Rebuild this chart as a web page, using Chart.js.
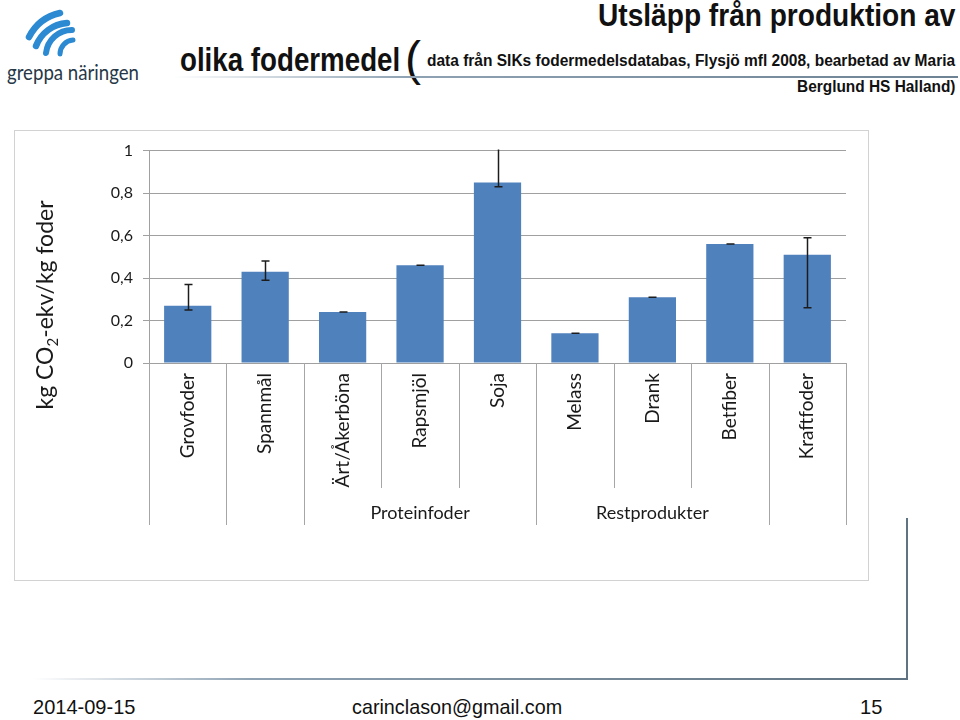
<!DOCTYPE html>
<html>
<head>
<meta charset="utf-8">
<script src="https://cdn.jsdelivr.net/npm/chart.js"></script>
<style>
body { margin: 0; width: 960px; height: 720px; position: relative; background: #fff; overflow: hidden; font-family: 'Liberation Sans', Arial, sans-serif; }
.t { position: absolute; white-space: nowrap; font-weight: bold; color: #111; line-height: 1; }
.f { position: absolute; white-space: nowrap; color: #111; font-size: 21px; line-height: 1; }
#box { position: absolute; left: 14px; top: 130px; width: 855px; height: 451px; border: 1px solid #d2d2d2; box-sizing: border-box; }
#box canvas { position: absolute; left: 0; top: 0; }
</style>
</head>
<body>

<svg style="position:absolute;left:0;top:0" width="180" height="100">
  <g fill="none" stroke="#2b8ad2" stroke-linecap="round">
    <path d="M29 37 A46 46 0 0 1 60 13" stroke-width="6.5"/>
    <path d="M36 46 A36 36 0 0 1 67 23" stroke-width="6.5"/>
    <path d="M46 53 A26 26 0 0 1 72 30" stroke-width="6"/>
    <path d="M60 54 A14 14 0 0 1 73 40" stroke-width="5"/>
  </g>
  <text x="7" y="80" textLength="132" lengthAdjust="spacingAndGlyphs" font-family="Lato, 'Open Sans', sans-serif" font-size="21" fill="#263747">greppa näringen</text>
</svg>

<div class="t" data-w="357" data-o="right" style="right:5px;top:0px;font-size:31px;">Utsläpp från produktion av</div>
<div class="t" data-w="220" data-o="left" style="left:180px;top:42px;font-size:34px;">olika fodermedel</div>
<div class="t" style="left:405px;top:35px;font-size:48px;font-weight:normal;">(</div>
<div class="t" data-w="528" data-o="left" style="left:427px;top:53px;font-size:16px;">data från SIKs fodermedelsdatabas, Flysjö mfl 2008, bearbetad av Maria</div>
<div class="t" data-w="158" data-o="right" style="right:5px;top:79px;font-size:16px;">Berglund HS Halland)</div>
<div style="position:absolute;left:173px;top:76px;width:785px;height:2px;background:linear-gradient(to right, rgba(255,255,255,0), #8ea2b3 30%, #6d8293);"></div>

<div id="box"><canvas id="mycanvas" width="853" height="449"></canvas></div>

<div style="position:absolute;left:33px;top:678px;width:875px;height:2px;background:linear-gradient(to right, rgba(255,255,255,0), #8ea2b3 25%, #5f7382);"></div>
<div style="position:absolute;left:906px;top:518px;width:2px;height:162px;background:#5f7382;"></div>

<div class="f" data-w="102" data-o="left" style="left:33px;top:696px;">2014-09-15</div>
<div class="f" data-w="210" data-o="left" style="left:352px;top:696px;">carinclason@gmail.com</div>
<div class="f" data-w="22" data-o="left" style="left:860px;top:696px;">15</div>

<script>
// feed types and kg CO2-eq per kg feed
var feeds = ["Grovfoder", "Spannmål", "Ärt/Åkerböna", "Rapsmjöl", "Soja", "Melass", "Drank", "Betfiber", "Kraftfoder"];
var co2 = [0.27, 0.43, 0.24, 0.46, 0.85, 0.14, 0.31, 0.56, 0.51];
var errLow = [0.25, 0.39, 0.24, 0.46, 0.83, 0.14, 0.31, 0.56, 0.26];
var errHigh = [0.37, 0.48, 0.24, 0.46, 1.05, 0.14, 0.31, 0.56, 0.59];
var groupNames = ["Proteinfoder", "Restprodukter"];
var groupFrom = [2, 5];
var groupTo = [4, 7];
var yTicks = [0, 0.2, 0.4, 0.6, 0.8, 1];

// squeeze title/footer text to the widths in the slide
document.querySelectorAll('[data-w]').forEach(function(el) {
	var r = parseFloat(el.getAttribute('data-w')) / el.offsetWidth;
	el.style.transformOrigin = el.getAttribute('data-o') + ' top';
	el.style.transform = 'scaleX(' + r + ')';
});

var font = "Lato, 'Open Sans', sans-serif";

var extras = {
	id: 'extras',
	afterDatasetsDraw: function(chart) {
		var ctx = chart.ctx;
		var x = chart.scales.x;
		var y = chart.scales.y;
		var area = chart.chartArea;
		var meta = chart.getDatasetMeta(0);

		// error bars
		ctx.save();
		ctx.beginPath();
		ctx.rect(area.left, area.top - 1, area.right - area.left, area.bottom - area.top + 2);
		ctx.clip();
		ctx.strokeStyle = '#1c1c1c';
		ctx.lineWidth = 1.5;
		meta.data.forEach(function(bar, i) {
			var px = Math.round(bar.x) + 0.5;
			var yl = y.getPixelForValue(errLow[i]);
			var yh = y.getPixelForValue(errHigh[i]);
			ctx.beginPath();
			ctx.moveTo(px, yl); ctx.lineTo(px, yh);
			ctx.moveTo(px - 4, yl); ctx.lineTo(px + 4, yl);
			ctx.moveTo(px - 4, yh); ctx.lineTo(px + 4, yh);
			ctx.stroke();
		});
		ctx.restore();

		// category separators below the axis
		ctx.save();
		ctx.strokeStyle = '#a6a6a6';
		ctx.lineWidth = 1;
		var step = (x.right - x.left) / feeds.length;
		for (var b = 0; b <= feeds.length; b++) {
			var inner = false;
			for (var g = 0; g < groupNames.length; g++) {
				if (b > groupFrom[g] && b <= groupTo[g]) inner = true;
			}
			var bx = Math.round(x.left + b * step) + 0.5;
			ctx.beginPath();
			ctx.moveTo(bx, area.bottom);
			ctx.lineTo(bx, area.bottom + (inner ? 125 : 162));
			ctx.stroke();
		}

		// group labels
		ctx.fillStyle = '#1a1a1a';
		ctx.font = '18px ' + font;
		ctx.textAlign = 'center';
		ctx.textBaseline = 'middle';
		for (var k = 0; k < groupNames.length; k++) {
			var cx = (x.getPixelForValue(groupFrom[k]) + x.getPixelForValue(groupTo[k])) / 2;
			ctx.fillText(groupNames[k], cx, area.bottom + 150);
		}

		// y axis title with subscript
		ctx.translate(30, 174);
		ctx.rotate(-Math.PI / 2);
		ctx.textAlign = 'left';
		ctx.textBaseline = 'alphabetic';
		var big = '23px ' + font, small = '15px ' + font;
		ctx.font = big;
		var w1 = ctx.measureText('kg CO').width;
		var w3 = ctx.measureText('-ekv/kg foder').width;
		ctx.font = small;
		var w2 = ctx.measureText('2').width;
		var sx = -(w1 + w2 + w3) / 2;
		ctx.font = big;
		ctx.fillText('kg CO', sx, 8);
		ctx.font = small;
		ctx.fillText('2', sx + w1, 13);
		ctx.font = big;
		ctx.fillText('-ekv/kg foder', sx + w1 + w2, 8);
		ctx.restore();
	}
};

var chartdata = {
	labels: feeds,
	datasets: [
		{
			label: "kg CO2-ekv/kg foder",
			backgroundColor: "#4f81bd",
			borderWidth: 0,
			barPercentage: 0.61,
			categoryPercentage: 1,
			data: co2
		}
	]
};

var ctx = document.getElementById('mycanvas');

var BarGraph = new Chart(ctx, {
	type: 'bar',
	data: chartdata,
	plugins: [extras],
	options: {
		responsive: false,
		animation: false,
		layout: { padding: { top: 15, right: 22, bottom: 0, left: 0 } },
		plugins: {
			legend: { display: false },
			tooltip: { enabled: false }
		},
		scales: {
			x: {
				grid: { display: false, drawTicks: false },
				border: { display: false },
				ticks: {
					autoSkip: false,
					minRotation: 90,
					maxRotation: 90,
					padding: 10,
					color: '#1a1a1a',
					font: { family: font, size: 19 }
				},
				afterFit: function(s) { s.height = 217; }
			},
			y: {
				min: 0,
				max: 1,
				afterBuildTicks: function(s) {
					s.ticks = yTicks.map(function(v) { return { value: v }; });
				},
				grid: { color: '#a0a0a0', tickLength: 6 },
				border: { display: true, color: '#a0a0a0' },
				ticks: {
					padding: 10,
					color: '#1a1a1a',
					font: { family: font, size: 16 },
					callback: function(v) {
						return String(Math.round(v * 10) / 10).replace('.', ',');
					}
				},
				afterFit: function(s) { s.width = 134; }
			}
		}
	}
});
</script>
</body>
</html>
